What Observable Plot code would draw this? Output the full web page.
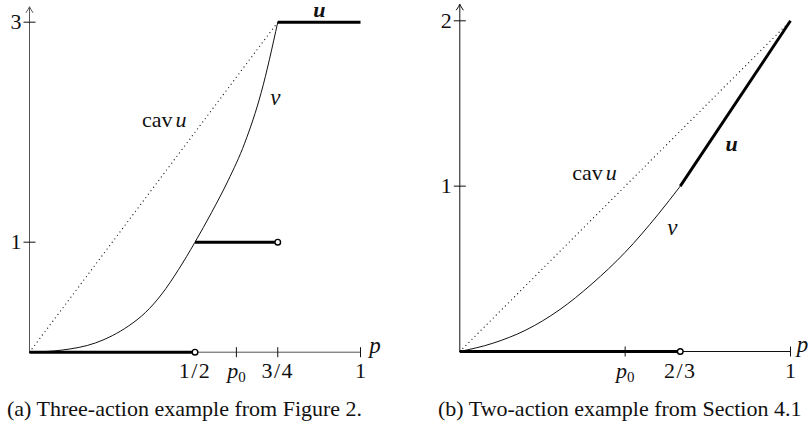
<!DOCTYPE html>
<html><head><meta charset="utf-8">
<script src="https://cdn.jsdelivr.net/npm/d3@7"></script>
<script src="https://cdn.jsdelivr.net/npm/@observablehq/plot@0.6"></script>
<style>
body{margin:0;background:#fff;}
#wrap{position:relative;width:809px;height:432px;overflow:hidden;}
.panel{position:absolute;top:0;}
.cap{position:absolute;top:398px;font-family:"Liberation Serif",serif;font-size:22px;line-height:22px;white-space:nowrap;color:#111;}
</style></head><body>
<div id="wrap">
  <div id="pa" class="panel" style="left:0px"></div>
  <div id="pb" class="panel" style="left:400px"></div>
  <div class="cap" style="left:7px">(a) Three-action example from Figure 2.</div>
  <div class="cap" style="left:438px">(b) Two-action example from Section 4.1</div>
</div>
<script>
// ---------- Panel (a): three-action example ----------
const aVP = [0, 0.1, 0.2, 0.25, 0.3, 0.35, 0.4, 0.45, 0.5, 0.55, 0.6, 0.65, 0.7, 0.75];
const aVV = [0, 0.02, 0.085, 0.15, 0.24, 0.36, 0.53, 0.75, 1.0, 1.27, 1.56, 1.9, 2.36, 3.0];
const aCavP = [0, 0.75];
const aCavV = [0, 3];
const aUX1 = [0, 0.5, 0.75];
const aUX2 = [0.5, 0.75, 1];
const aUY1 = [0, 1, 3];
const aUY2 = [0, 1, 3];
const aOpenP = [0.5, 0.75];
const aOpenV = [0, 1];
const aXTickP = [0.625, 0.75, 1];
const aXLabelP = [0.5, 0.625, 0.75, 1];
const aXLabelText = ["1/2", "p0", "3/4", "1"];
const aYTickV = [1, 3];
const aYTickText = ["1", "3"];
const aYMax = 3;
const aAxisTop = 3.14;
const aCavLabel = {p: 0.34, v: 2.115};
const aVLabel = {p: 0.743, v: 2.31};
const aULabel = {p: 0.876, v: 3.11};
const aPLabel = {p: 1.044, v: 0.058};

// ---------- Panel (b): two-action example ----------
const bVP = [0, 0.1, 0.2, 0.3, 0.4, 0.5, 0.6, 2/3];
const bVV = [0, 0.05, 0.13, 0.25, 0.41, 0.60, 0.83, 1.0];
const bCavP = [0, 1];
const bCavV = [0, 2];
const bUX1 = [0, 2/3];
const bUX2 = [2/3, 1];
const bUY1 = [0, 1];
const bUY2 = [0, 2];
const bOpenP = [2/3];
const bOpenV = [0];
const bXTickP = [0.5, 1];
const bXLabelP = [0.5, 2/3, 1];
const bXLabelText = ["p0", "2/3", "1"];
const bYTickV = [1, 2];
const bYTickText = ["1", "2"];
const bYMax = 2;
const bAxisTop = 2.1;
const bCavLabel = {p: 0.34, v: 1.077};
const bVLabel = {p: 0.643, v: 0.747};
const bULabel = {p: 0.822, v: 1.258};
const bPLabel = {p: 1.036, v: 0.04};

const vTick = {draw(c, s){ const r = Math.sqrt(s/Math.PI); c.moveTo(0,-r); c.lineTo(0,r); }};
const hTick = {draw(c, s){ const r = Math.sqrt(s/Math.PI); c.moveTo(-r,0); c.lineTo(r,0); }};
const arrowHead = {draw(c, s){ const r = Math.sqrt(s/Math.PI); c.moveTo(-r*0.6, r); c.quadraticCurveTo(-r*0.15, r*0.35, 0, 0); c.quadraticCurveTo(r*0.15, r*0.35, r*0.6, r); }};

const FONT = '"Liberation Serif", serif';

function panel(cfg) {
  const vData = cfg.vP.map((p, i) => ({p, v: cfg.vV[i]}));
  const cav = cfg.cavP.map((p, i) => ({p, v: cfg.cavV[i]}));
  const u = cfg.uX1.map((x1, i) => ({x1, x2: cfg.uX2[i], y1: cfg.uY1[i], y2: cfg.uY2[i]}));
  const axes = [{x1: 0, y1: 0, x2: 0, y2: cfg.axisTop}, {x1: 0, y1: 0, x2: 1, y2: 0}];
  const open = cfg.openP.map((p, i) => ({p, v: cfg.openV[i]}));
  const xl = cfg.xLabelP.map((p, i) => ({p, t: cfg.xLabelText[i]}));
  const yl = cfg.yTickV.map((v, i) => ({v, t: cfg.yTickText[i]}));
  const svg = Plot.plot({
    width: cfg.width, height: cfg.height,
    marginLeft: cfg.ml, marginRight: cfg.mr, marginTop: cfg.mt, marginBottom: cfg.mb,
    x: {domain: [0, 1], axis: null},
    y: {domain: [0, cfg.yMax], axis: null},
    style: {fontFamily: FONT, fontSize: "22px", background: "transparent", overflow: "visible", color: "#111"},
    marks: [
      Plot.link(axes, {x1: "x1", y1: "y1", x2: "x2", y2: "y2", stroke: cfg.axisColor, strokeWidth: 1}),
      Plot.dot([cfg.axisTop], {x: () => 0, y: d => d, symbol: arrowHead, r: 6, stroke: cfg.axisColor, strokeWidth: 1, fill: "none"}),
      Plot.dot(cfg.xTickP, {x: d => d, y: () => 0, symbol: vTick, r: 5, stroke: "#111", strokeWidth: 1, fill: "none"}),
      Plot.dot(cfg.yTickV, {x: () => 0, y: d => d, symbol: hTick, r: 6, stroke: "#111", strokeWidth: 1, fill: "none"}),
      Plot.line(cav, {x: "p", y: "v", stroke: "#222", strokeWidth: 1.3, strokeDasharray: "0,4.3", strokeLinecap: "round"}),
      Plot.line(vData, {x: "p", y: "v", curve: "monotone-x", stroke: "#111", strokeWidth: 1}),
      Plot.link(u, {x1: "x1", y1: "y1", x2: "x2", y2: "y2", stroke: "#000", strokeWidth: 2.9}),
      Plot.dot(open, {x: "p", y: "v", r: 2.8, fill: "white", stroke: "#000", strokeWidth: 1.4}),
      Plot.text(xl, {x: "p", y: () => 0, text: "t", dy: 19, fontSize: 22}),
      Plot.text(yl, {x: () => 0, y: "v", text: "t", dx: -8, textAnchor: "end", fontSize: 22}),
      Plot.text([cfg.cavLabel], {x: "p", y: "v", text: () => "cavu", textAnchor: "start", fontSize: 22}),
      Plot.text([cfg.vLabel], {x: "p", y: "v", text: () => "v", fontStyle: "italic", fontSize: 23}),
      Plot.text([cfg.uLabel], {x: "p", y: "v", text: () => "u", fontStyle: "italic", fontWeight: "bold", fontSize: 22}),
      Plot.text([cfg.pLabel], {x: "p", y: "v", text: () => "p", fontStyle: "italic", fontSize: 23})
    ]
  });
  svg.querySelectorAll("text").forEach(t => {
    const s = t.textContent;
    if (s === "cavu") t.innerHTML = 'cav<tspan dx="3" font-style="italic">u</tspan>';
    else if (s === "p0") t.innerHTML = '<tspan font-style="italic">p</tspan><tspan font-size="0.68em" dy="0.28em">0</tspan>';
    else if (s.includes("/")) t.setAttribute("letter-spacing", "1.5");
  });
  return svg;
}

document.getElementById("pa").appendChild(panel({
  width: 400, height: 390, ml: 29, mr: 40, mt: 21.7, mb: 38.3,
  vP: aVP, vV: aVV, cavP: aCavP, cavV: aCavV,
  uX1: aUX1, uX2: aUX2, uY1: aUY1, uY2: aUY2,
  openP: aOpenP, openV: aOpenV, xTickP: aXTickP,
  xLabelP: aXLabelP, xLabelText: aXLabelText,
  yTickV: aYTickV, yTickText: aYTickText, yMax: aYMax, axisTop: aAxisTop,
  cavLabel: aCavLabel, vLabel: aVLabel, uLabel: aULabel, pLabel: aPLabel,
  axisColor: "#555"
}));
document.getElementById("pb").appendChild(panel({
  width: 409, height: 390, ml: 59.3, mr: 19, mt: 20.3, mb: 39,
  vP: bVP, vV: bVV, cavP: bCavP, cavV: bCavV,
  uX1: bUX1, uX2: bUX2, uY1: bUY1, uY2: bUY2,
  openP: bOpenP, openV: bOpenV, xTickP: bXTickP,
  xLabelP: bXLabelP, xLabelText: bXLabelText,
  yTickV: bYTickV, yTickText: bYTickText, yMax: bYMax, axisTop: bAxisTop,
  cavLabel: bCavLabel, vLabel: bVLabel, uLabel: bULabel, pLabel: bPLabel,
  axisColor: "#111"
}));
</script>
</body></html>
